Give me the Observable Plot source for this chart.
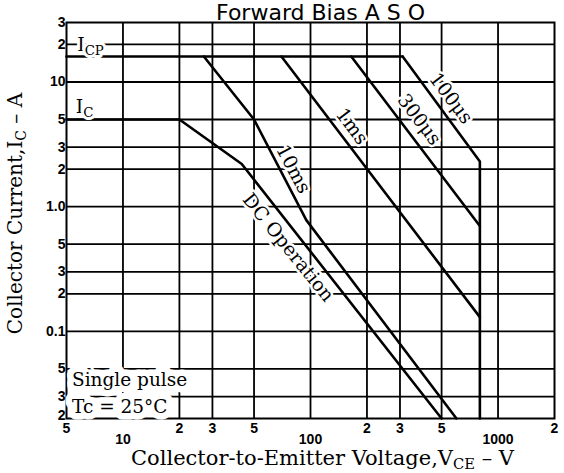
<!DOCTYPE html>
<html>
<head>
<meta charset="utf-8">
<script src="https://cdn.jsdelivr.net/npm/d3@7"></script>
<script src="https://cdn.jsdelivr.net/npm/@observablehq/plot@0.6"></script>
<style>
  html, body { margin: 0; padding: 0; background: white; }
  #chart svg { display: block; }
</style>
</head>
<body>
<div id="chart"></div>
<script>
// ---- Axis ticks & labels ----
const voltTicks = [5, 10, 20, 30, 50, 100, 200, 300, 500, 1000, 2000];
const voltTickLabels = ["5", "10", "2", "3", "5", "100", "2", "3", "5", "1000", "2"];
const currTicks = [0.02, 0.03, 0.05, 0.1, 0.2, 0.3, 0.5, 1, 2, 3, 5, 10, 20, 30];
const currTickLabels = ["2", "3", "5", "0.1", "2", "3", "5", "1.0", "2", "3", "5", "10", "2", "3"];
const voltGrid = [10, 20, 30, 50, 100, 200, 300, 500, 1000];
const currGrid = [0.03, 0.05, 0.1, 0.2, 0.3, 0.5, 1, 2, 3, 5, 10, 20];

// ---- Curves (V_CE in V, I_C in A) ----
const icpV = [5, 310];           const icpI = [16, 16];
const icV = [5, 20];             const icI = [5, 5];
const us100V = [310, 800, 800];  const us100I = [16, 2.3, 0.02];
const us300V = [165, 800];       const us300I = [16, 0.7];
const ms1V = [70, 800];          const ms1I = [16, 0.13];
const ms10V = [27, 50, 95, 600]; const ms10I = [16, 5, 0.78, 0.02];
const dcV = [20, 43, 500];       const dcI = [5, 2.2, 0.02];

// ---- Annotations ----
const curveLabels = ["100μs", "300μs", "1ms", "10ms", "DC Operation"];
const curveLabelV = [560, 380, 166, 81, 76];
const curveLabelI = [7.4, 5.0, 4.4, 2.0, 0.47];
const curveLabelAngle = [53, 53, 53, 62, 51];
const noteLabels = ["I_{CP}", "I_{C}", "Single pulse", "Tc = 25°C"];
const noteV = [5.7, 5.6, 5.35, 5.35];
const noteI = [20, 6.3, 0.041, 0.0245];

const curves = [
  ["ICP", icpV, icpI], ["IC", icV, icI], ["100us", us100V, us100I],
  ["300us", us300V, us300I], ["1ms", ms1V, ms1I], ["10ms", ms10V, ms10I], ["DC", dcV, dcI]
].flatMap(([name, vs, is]) => vs.map((v, k) => ({curve: name, v, i: is[k]})));

const curveAnn = curveLabels.map((t, k) => ({t, v: curveLabelV[k], i: curveLabelI[k], a: curveLabelAngle[k]}));
const notes = noteLabels.map((t, k) => ({t, v: noteV[k], i: noteI[k]}));

const voltMap = new Map(voltTicks.map((d, k) => [d, voltTickLabels[k]]));
const currMap = new Map(currTicks.map((d, k) => [d, currTickLabels[k]]));
const isDecade = d => voltMap.get(d).length > 1;
const yMin = currTicks[0];

const serif = "DejaVu Serif";
const tickFont = "Liberation Sans";
const tickStyle = {fontFamily: tickFont, fontWeight: "bold", fontSize: 14};

const chart = Plot.plot({
  width: 564,
  height: 473,
  marginTop: 22,
  marginBottom: 55,
  marginLeft: 66,
  marginRight: 10,
  style: {background: "white", color: "black", overflow: "visible"},
  x: {type: "log", domain: [5, 2000], axis: null},
  y: {type: "log", domain: [0.02, 30], axis: null},
  marks: [
    Plot.ruleX(voltGrid, {stroke: "black", strokeWidth: 1.8}),
    Plot.ruleY(currGrid, {stroke: "black", strokeWidth: 1.8}),
    Plot.frame({stroke: "black", strokeWidth: 2}),
    Plot.line(curves, {x: "v", y: "i", z: "curve", stroke: "black", strokeWidth: 2.6, strokeLinejoin: "miter"}),
    Plot.text(curveAnn, {x: "v", y: "i", text: "t", rotate: "a", fontFamily: serif, fontSize: 19,
      stroke: "white", strokeWidth: 5, fill: "black"}),
    Plot.text(notes.slice(0, 2), {x: "v", y: "i", text: "t", textAnchor: "start", fontFamily: serif, fontSize: 19,
      stroke: "white", strokeWidth: 6, fill: "black"}),
    Plot.text(notes.slice(2), {x: "v", y: "i", text: "t", textAnchor: "start", fontFamily: serif, fontSize: 18.5,
      stroke: "white", strokeWidth: 13, strokeLinejoin: "round", fill: "black"}),
    // y tick labels (bottom one nudged up, as in the original, to clear the corner)
    Plot.text(currTicks.filter(d => d !== yMin), {y: d => d, text: d => currMap.get(d), frameAnchor: "left", textAnchor: "end", dx: -1, ...tickStyle}),
    Plot.text([yMin], {y: d => d, text: d => currMap.get(d), frameAnchor: "left", textAnchor: "end", dx: -1, dy: -3, ...tickStyle}),
    // x tick labels (1-2-3-5 digits and decades)
    Plot.text(voltTicks.filter(d => !isDecade(d)), {x: d => d, text: d => voltMap.get(d), frameAnchor: "bottom", textAnchor: "middle", lineAnchor: "middle", dy: 10, ...tickStyle}),
    Plot.text(voltTicks.filter(isDecade), {x: d => d, text: d => voltMap.get(d), frameAnchor: "bottom", textAnchor: "middle", lineAnchor: "middle", dy: 21,
      ...tickStyle, letterSpacing: "-0.5px"}),
    // titles
    Plot.text(["Forward Bias A S O"], {frameAnchor: "top", textAnchor: "middle", dx: 10, dy: -10, fontFamily: "DejaVu Sans", fontSize: 22, lineAnchor: "middle"}),
    Plot.text(["Collector-to-Emitter Voltage,V_{CE} – V"], {frameAnchor: "bottom", textAnchor: "middle", dx: 12, dy: 40, fontFamily: serif, fontSize: 21, lineAnchor: "middle"}),
    Plot.text(["Collector Current,I_{C} – A"], {frameAnchor: "left", textAnchor: "middle", dx: -51, dy: -7, rotate: -90, fontFamily: serif, fontSize: 20, lineAnchor: "middle"})
  ]
});

// subscripts: turn "_{...}" into real subscript tspans
function subscriptify(svg) {
  for (const t of svg.querySelectorAll("text")) {
    const s = t.textContent;
    if (!s.includes("_{")) continue;
    t.textContent = "";
    const re = /_\{([^}]*)\}/g;
    let last = 0, m, shifted = false;
    const add = (str, sub) => {
      if (!str) return;
      const ts = document.createElementNS("http://www.w3.org/2000/svg", "tspan");
      ts.textContent = str;
      if (sub) { ts.setAttribute("dy", "4"); ts.setAttribute("font-size", "70%"); shifted = true; }
      else if (shifted) { ts.setAttribute("dy", "-4"); shifted = false; }
      t.appendChild(ts);
    };
    while ((m = re.exec(s))) {
      add(s.slice(last, m.index), false);
      add(m[1], true);
      last = re.lastIndex;
    }
    add(s.slice(last), false);
  }
}
subscriptify(chart);
document.getElementById("chart").appendChild(chart);
</script>
</body>
</html>
